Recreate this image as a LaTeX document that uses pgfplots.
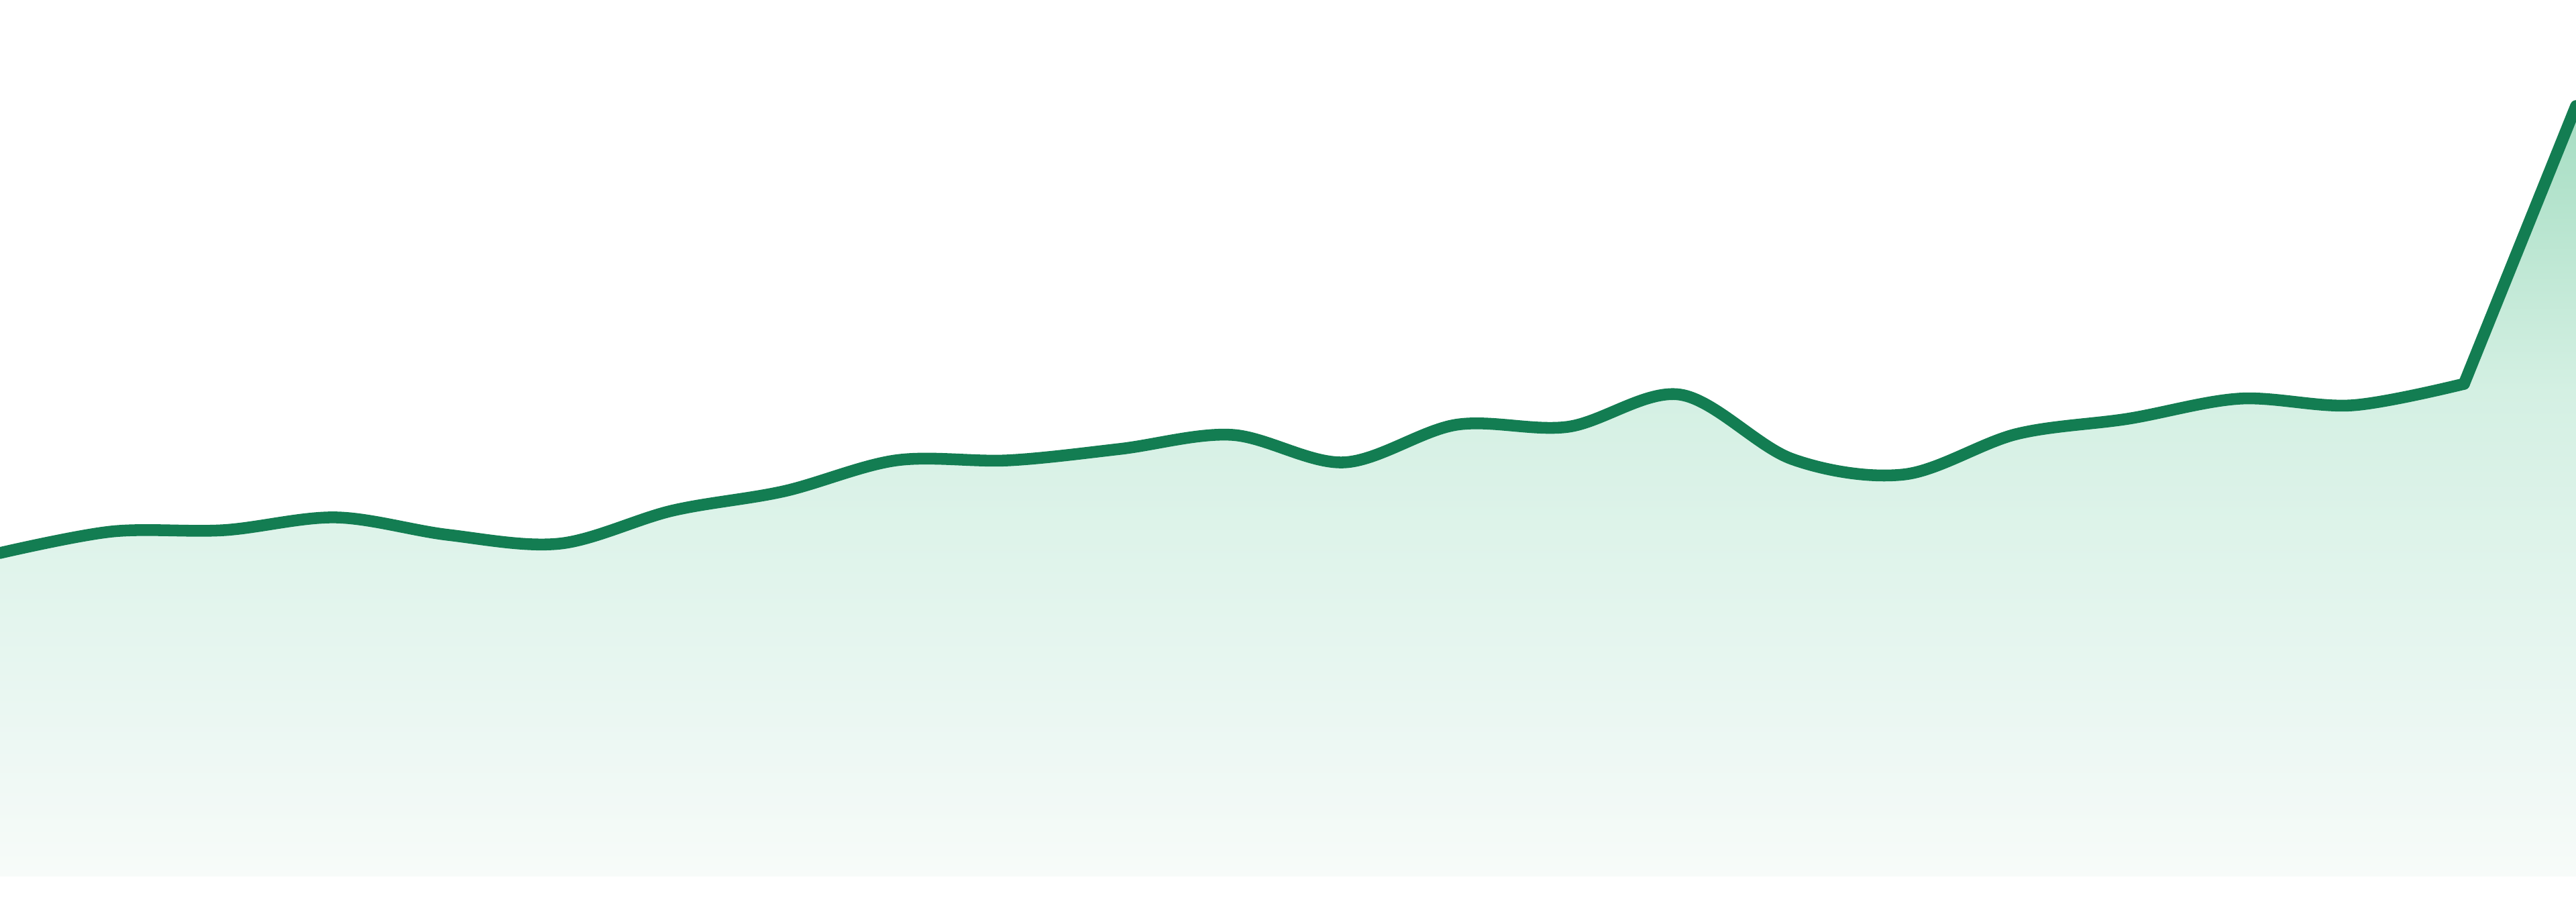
\documentclass[border=0pt]{standalone}
\usepackage{pgfplots}
\pgfplotsset{compat=1.18}
\usepackage{pgfplotstable}
\usepgfplotslibrary{fillbetween}

\definecolor{linegreen}{RGB}{19,125,82}
% tikz maps a path's box onto 25bp..75bp of a shading
% fade for the whole height (0 .. peak)
\pgfdeclareverticalshading{fadefull}{100bp}{%
  color(0bp)=({rgb,255:red,247;green,251;blue,249});
  color(25bp)=({rgb,255:red,247;green,251;blue,249});
  color(38.5bp)=({rgb,255:red,231;green,246;blue,240});
  color(56.5bp)=({rgb,255:red,212;green,240;blue,227});
  color(75bp)=({rgb,255:red,165;green,221;blue,194});
  color(100bp)=({rgb,255:red,165;green,221;blue,194})}
% the same fade, cut at the top of the low part (73.4 of 114.8)
\pgfdeclareverticalshading{fadelow}{100bp}{%
  color(0bp)=({rgb,255:red,247;green,251;blue,249});
  color(25bp)=({rgb,255:red,247;green,251;blue,249});
  color(46.1bp)=({rgb,255:red,231;green,246;blue,240});
  color(74.3bp)=({rgb,255:red,212;green,240;blue,227});
  color(75bp)=({rgb,255:red,211;green,240;blue,226});
  color(100bp)=({rgb,255:red,211;green,240;blue,226})}

% one value per step, 24 steps
\pgfplotstableread{
x  v
0  48.2
1  51.4
2  51.6
3  53.5
4  50.9
5  49.6
6  54.5
7  57.4
8  62.0
9  62.0
10 63.7
11 65.8
12 61.7
13 67.3
14 67.0
15 71.8
16 62.2
17 59.9
18 65.9
19 68.2
20 71.2
21 70.2
22 73.4
23 114.8
}\series

\begin{document}
\begin{tikzpicture}
\begin{axis}[
    scale only axis,
    width=20cm, height=7cm,
    xmin=0, xmax=23,
    ymin=-3.8, ymax=130.6,
    hide axis,
    clip=true,
]
% steps 0..22 are smooth, the last step is a straight jump
\addplot[draw=none, name path=low, smooth, tension=0.55, forget plot]
    table[x=x, y=v, skip coords between index={23}{24}]{\series};
\addplot[draw=none, name path=jump, forget plot]
    table[x=x, y=v, skip coords between index={0}{22}]{\series};
\path[name path=base] (axis cs:0,0) -- (axis cs:23,0);
\path[name path=basejump] (axis cs:22,0) -- (axis cs:23,0);

\addplot[shading=fadelow] fill between[of=low and base];
\addplot[shading=fadefull] fill between[of=jump and basejump];

\addplot[linegreen, line width=2.6pt, line cap=round, smooth, tension=0.55]
    table[x=x, y=v, skip coords between index={23}{24}]{\series};
\addplot[linegreen, line width=2.6pt, line cap=round]
    table[x=x, y=v, skip coords between index={0}{22}]{\series};
\end{axis}
\end{tikzpicture}
\end{document}
